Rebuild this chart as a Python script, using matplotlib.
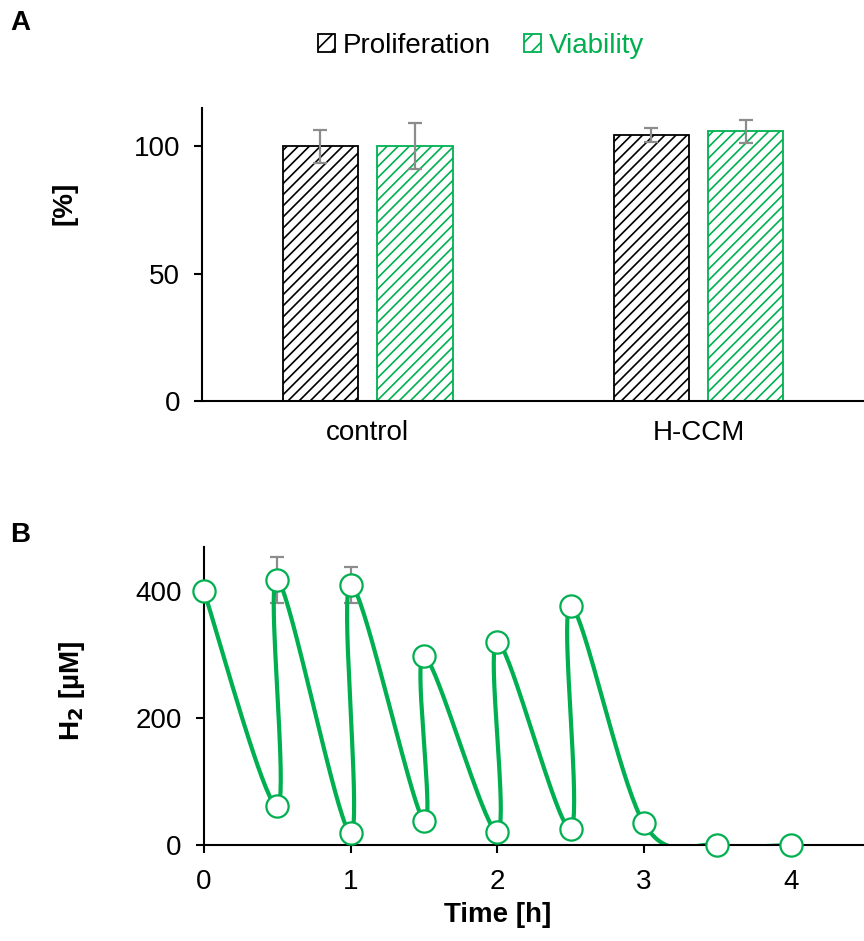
import matplotlib
matplotlib.use("Agg")
import matplotlib.pyplot as plt
import numpy as np
from matplotlib.patches import Patch

plt.rcParams['font.family'] = ['Liberation Sans', 'DejaVu Sans']
plt.rcParams['hatch.linewidth'] = 1.2

GREEN = "#00B050"
GREY = "#8C8C8C"

# panel A
groups = ["control", "H-CCM"]
prolif = [100.0, 104.5]
prolif_err = [6.5, 2.8]
viab = [100.0, 106.0]
viab_err = [9.0, 4.5]

# panel B
time_h = [0, 0.5, 0.5, 1, 1, 1.5, 1.5, 2, 2, 2.5, 2.5, 3, 3.5, 4]
h2 = [400, 61, 418, 19, 410, 38, 298, 21, 320, 26, 376, 34, 0, 0]
h2_err = [0, 0, 36, 0, 28, 0, 0, 0, 0, 0, 0, 0, 0, 0]


def smooth_curve(xs, ys, n=40):
    # Excel style smoothed line: cubic bezier with catmull-rom control points
    p = np.column_stack([xs, ys]).astype(float)
    out = []
    for i in range(len(p) - 1):
        p0 = p[i - 1] if i > 0 else p[i]
        p1 = p[i]
        p2 = p[i + 1]
        p3 = p[i + 2] if i + 2 < len(p) else p[i + 1]
        c1 = p1 + (p2 - p0) / 6.0
        c2 = p2 - (p3 - p1) / 6.0
        t = np.linspace(0, 1, n)[:, None]
        seg = ((1 - t) ** 3) * p1 + 3 * ((1 - t) ** 2) * t * c1 + 3 * (1 - t) * t ** 2 * c2 + t ** 3 * p2
        out.append(seg)
    out = np.vstack(out)
    return out[:, 0], out[:, 1]


fig = plt.figure(figsize=(8.64, 9.41), dpi=100)

# ---- A ----
axA = fig.add_axes([0.234, 0.574, 0.766, 0.311])
x = np.arange(len(groups))
w = 0.227
off = 0.143
axA.bar(x - off, prolif, w, color="white", edgecolor="black", hatch="///", linewidth=1.3, zorder=2)
axA.bar(x + off, viab, w, color="white", edgecolor=GREEN, hatch="///", linewidth=1.3, zorder=2)
axA.errorbar(x - off, prolif, yerr=prolif_err, fmt="none", ecolor=GREY, elinewidth=1.6,
             capsize=5, capthick=1.6, zorder=3)
axA.errorbar(x + off, viab, yerr=viab_err, fmt="none", ecolor=GREY, elinewidth=1.6,
             capsize=5, capthick=1.6, zorder=3)
axA.set_xlim(-0.5, 1.5)
axA.set_ylim(0, 115)
axA.set_yticks([0, 50, 100])
axA.set_xticks(x)
axA.set_xticklabels(groups)
axA.tick_params(axis="x", length=0, pad=14, labelsize=20)
axA.tick_params(axis="y", length=6, width=1.5, pad=10, labelsize=20, direction="out")
for s in ["top", "right"]:
    axA.spines[s].set_visible(False)
for s in ["left", "bottom"]:
    axA.spines[s].set_linewidth(1.5)
axA.set_ylabel("[%]", fontsize=20, fontweight="bold")
axA.yaxis.set_label_coords(-0.189, 0.676)

handles = [Patch(facecolor="white", edgecolor="black", hatch="//", linewidth=1.3),
           Patch(facecolor="white", edgecolor=GREEN, hatch="//", linewidth=1.3)]
fig.legend(handles, ["Proliferation", "Viability"], loc="center", bbox_to_anchor=(0.557, 0.951),
           ncol=2, frameon=False, fontsize=20, labelcolor=["black", GREEN],
           handlelength=0.6, handleheight=0.6, handletextpad=0.3, columnspacing=1.2)

# ---- B ----
axB = fig.add_axes([0.236, 0.102, 0.764, 0.317])
sx, sy = smooth_curve(time_h, h2)
axB.plot(sx, sy, color=GREEN, linewidth=3, zorder=2, solid_capstyle="round")
err_idx = [i for i, e in enumerate(h2_err) if e > 0]
axB.errorbar([time_h[i] for i in err_idx], [h2[i] for i in err_idx],
             yerr=[h2_err[i] for i in err_idx], fmt="none", ecolor=GREY,
             elinewidth=1.6, capsize=5, capthick=1.6, zorder=1)
axB.plot(time_h, h2, linestyle="none", marker="o", markersize=16, markerfacecolor="white",
         markeredgecolor=GREEN, markeredgewidth=1.6, zorder=3, clip_on=False)
axB.set_xlim(0, 4.5)
axB.set_ylim(0, 470)
axB.set_xticks([0, 1, 2, 3, 4])
axB.set_yticks([0, 200, 400])
axB.tick_params(axis="both", length=6, width=1.5, labelsize=20, direction="out")
axB.tick_params(axis="x", pad=11)
axB.tick_params(axis="y", pad=10)
for s in ["top", "right"]:
    axB.spines[s].set_visible(False)
for s in ["left", "bottom"]:
    axB.spines[s].set_linewidth(1.5)
axB.set_xlabel("Time [h]", fontsize=20, fontweight="bold")
axB.xaxis.set_label_coords(0.445, -0.19)
axB.set_ylabel(r"H$_\mathbf{2}$ [µM]", fontsize=20, fontweight="bold")
axB.yaxis.set_label_coords(-0.177, 0.517)

fig.text(0.012, 0.976, "A", fontsize=20, fontweight="bold", va="center")
fig.text(0.012, 0.431, "B", fontsize=20, fontweight="bold", va="center")

fig.savefig("out.png", dpi=100)
